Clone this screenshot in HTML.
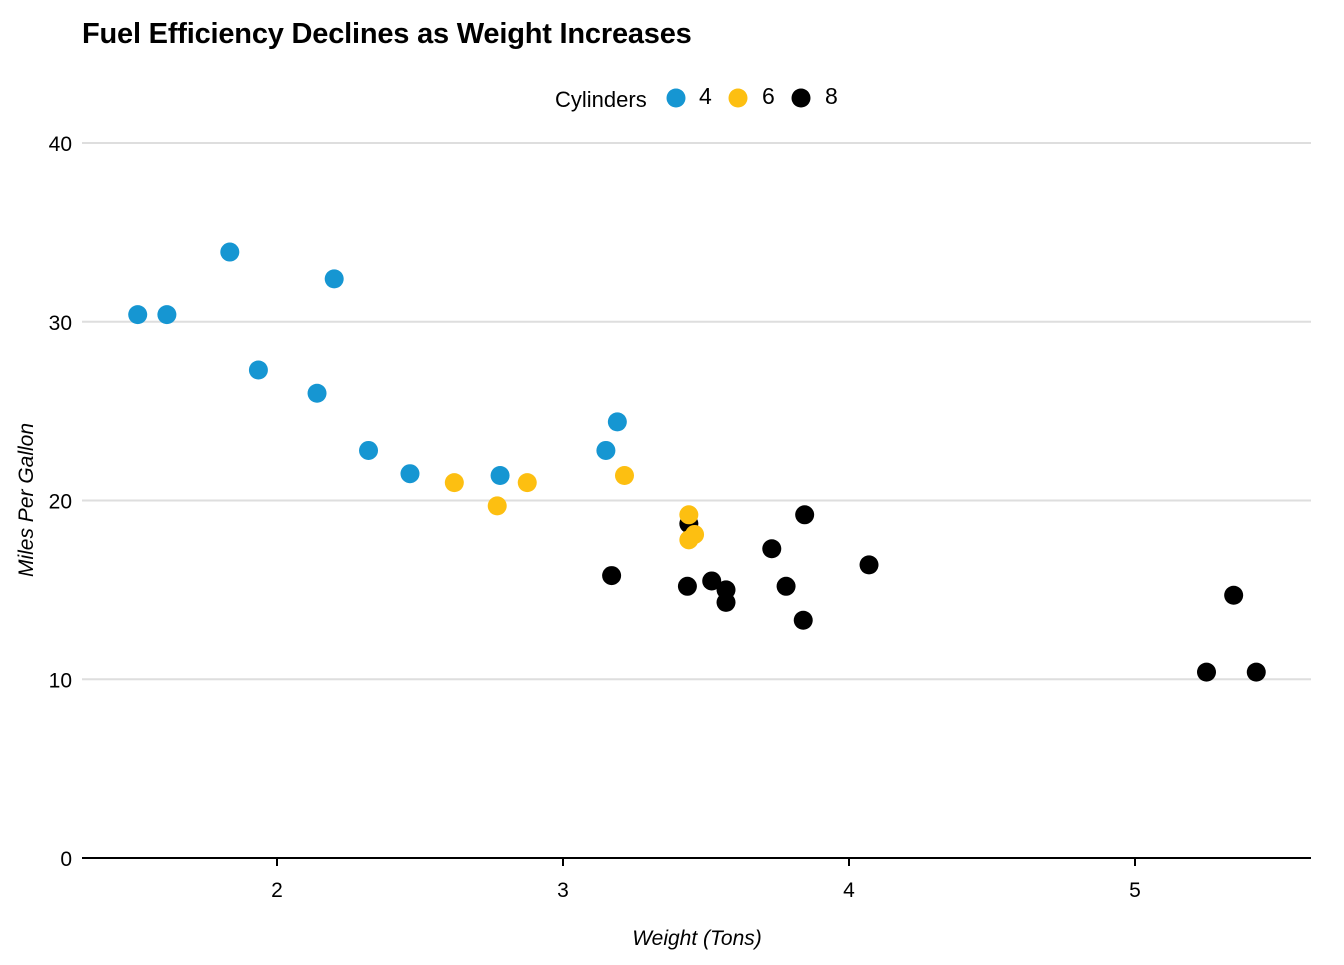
<!DOCTYPE html>
<html><head><meta charset="utf-8"><style>
body{margin:0;background:#fff;}
svg text{font-family:"Liberation Sans",sans-serif;}
</style></head><body>
<svg width="1344" height="960" xmlns="http://www.w3.org/2000/svg">
<text x="82" y="43" font-size="29" font-weight="bold" fill="#000" letter-spacing="-0.2">Fuel Efficiency Declines as Weight Increases</text>
<g>
<text x="555" y="107" font-size="22">Cylinders</text>
<circle cx="676" cy="98" r="9.5" fill="#1696d2"/>
<text x="699" y="104" font-size="23">4</text>
<circle cx="738" cy="98" r="9.5" fill="#fdbf11"/>
<text x="762" y="104" font-size="23">6</text>
<circle cx="801" cy="98" r="9.5" fill="#000"/>
<text x="825" y="104" font-size="23">8</text>
</g>
<g id="grid"></g><g id="axes"></g><g id="pts"></g>
<text x="697" y="945" font-size="21" font-style="italic" text-anchor="middle">Weight (Tons)</text>
<text transform="translate(33,500) rotate(-90)" font-size="21" font-style="italic" text-anchor="middle">Miles Per Gallon</text>
</svg>
<script>
const weights=[2.620,2.875,2.320,3.215,3.440,3.460,3.570,3.190,3.150,3.440,3.440,4.070,3.730,3.780,5.250,5.424,5.345,2.200,1.615,1.835,2.465,3.520,3.435,3.840,3.845,1.935,2.140,1.513,3.170,2.770,3.570,2.780];
const mpg=[21.0,21.0,22.8,21.4,18.7,18.1,14.3,24.4,22.8,19.2,17.8,16.4,17.3,15.2,10.4,10.4,14.7,32.4,30.4,33.9,21.5,15.5,15.2,13.3,19.2,27.3,26.0,30.4,15.8,19.7,15.0,21.4];
const cyl=[6,6,4,6,8,6,8,4,4,6,6,8,8,8,8,8,8,4,4,4,4,8,8,8,8,4,4,4,8,6,8,4];
const xTicks=[2,3,4,5];
const yTicks=[0,10,20,30,40];
const colors={4:"#1696d2",6:"#fdbf11",8:"#000000"};
const NS="http://www.w3.org/2000/svg";
const xs=v=>277+(v-2)*286;
const ys=v=>858-v*17.875;
const grid=document.getElementById('grid'),axes=document.getElementById('axes'),pts=document.getElementById('pts');
function mk(tag,attrs,parent){const e=document.createElementNS(NS,tag);for(const k in attrs)e.setAttribute(k,attrs[k]);parent.appendChild(e);return e;}
yTicks.forEach(t=>{
  if(t>0){const l=mk('line',{x1:82,x2:1311,y1:ys(t),y2:ys(t),stroke:'#dedede','stroke-width':2},grid);
  
  }
  const tx=mk('text',{x:72,y:ys(t)+8,'font-size':21,'text-anchor':'end'},axes);tx.textContent=t;
  
  
});
const ax=mk('line',{x1:82,x2:1311,y1:858,y2:858,stroke:'#000','stroke-width':2},axes);


xTicks.forEach(t=>{
  const tk=mk('line',{x1:xs(t),x2:xs(t),y1:858,y2:866,stroke:'#000','stroke-width':2},axes);
  
  
  const tx=mk('text',{x:xs(t),y:897,'font-size':21,'text-anchor':'middle'},axes);tx.textContent=t;
  
  
});
weights.forEach((w,i)=>{
  const c=mk('circle',{cx:xs(w),cy:ys(mpg[i]),r:9.5,fill:colors[cyl[i]]},pts);
  
  
});
</script>
</body></html>
